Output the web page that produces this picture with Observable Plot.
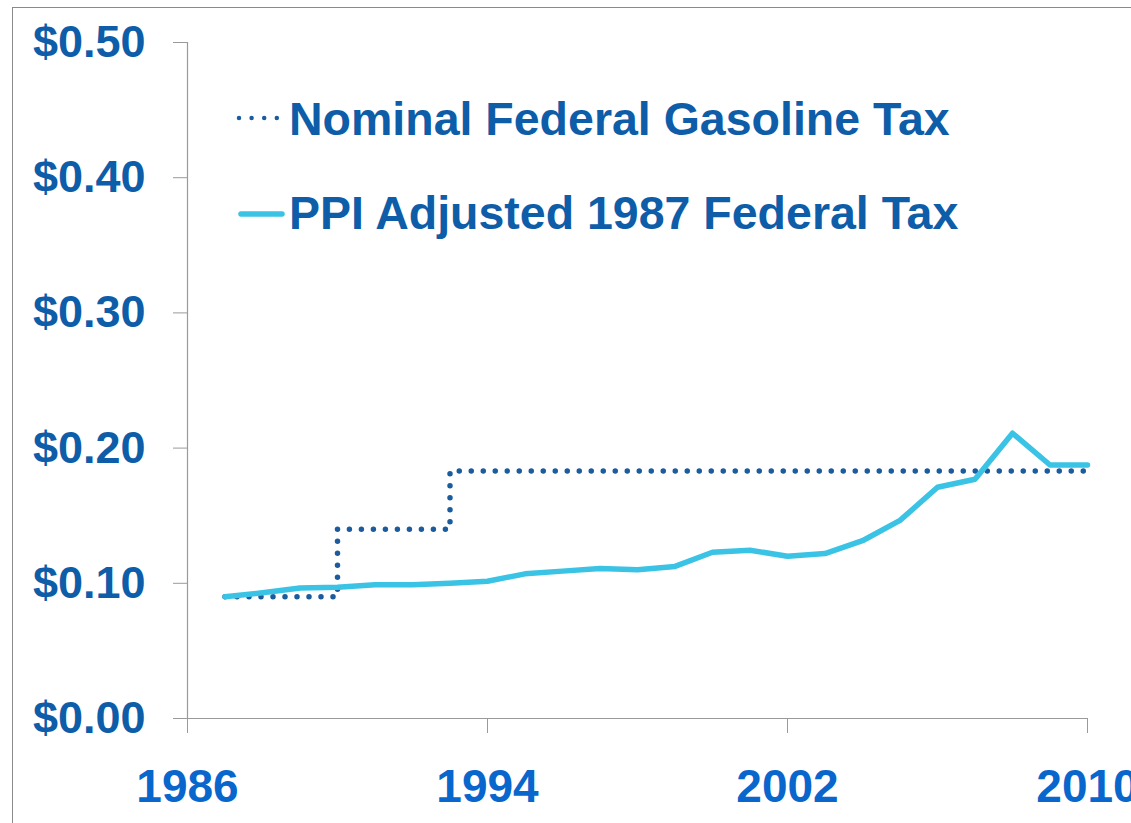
<!DOCTYPE html>
<html>
<head>
<meta charset="utf-8">
<script src="https://cdn.jsdelivr.net/npm/d3@7"></script>
<script src="https://cdn.jsdelivr.net/npm/@observablehq/plot@0.6"></script>
<style>
  html, body { margin: 0; padding: 0; background: #fff; overflow: hidden; }
  #wrap { position: relative; width: 1131px; height: 823px; }
  #border { position: absolute; left: 12px; top: 7px; width: 1200px; height: 900px;
            border-top: 1.5px solid #8a8a8a; border-left: 1.5px solid #8a8a8a; pointer-events: none; }
  #legend { position: absolute; left: 0; top: 0; pointer-events: none; }
  svg { font-family: "Liberation Sans", Arial, sans-serif; }
</style>
</head>
<body>
<div id="wrap">
  <div id="border"></div>
  <div id="chart"></div>
  <svg id="legend" width="1131" height="823"></svg>
</div>
<script>
const years = [1987,1988,1989,1990,1991,1992,1993,1994,1995,1996,1997,1998,1999,2000,2001,2002,2003,2004,2005,2006,2007,2008,2009,2010];
const nominalTax = [0.090,0.090,0.090,0.140,0.140,0.140,0.183,0.183,0.183,0.183,0.183,0.183,0.183,0.183,0.183,0.183,0.183,0.183,0.183,0.183,0.183,0.183,0.183,0.183];
const ppiAdjustedTax = [0.090,0.093,0.0965,0.097,0.099,0.099,0.100,0.1015,0.107,0.109,0.111,0.110,0.1125,0.123,0.1245,0.120,0.122,0.1315,0.1465,0.171,0.177,0.211,0.1875,0.1875];
const xTicks = [1986,1994,2002,2010];
const yTicks = [0,0.1,0.2,0.3,0.4,0.5];
const seriesNames = ["Nominal Federal Gasoline Tax","PPI Adjusted 1987 Federal Tax"];

const nominalData = years.map((y,i) => ({year: y, value: nominalTax[i]}));
const ppiData = years.map((y,i) => ({year: y, value: ppiAdjustedTax[i]}));

const darkBlue = "#1a5c9e";
const labelBlue = "#0e5da8";
const xLabelBlue = "#0866cc";
const lightBlue = "#3ac3e4";
const axisGray = "#9a9a9a";

const chart = Plot.plot({
  width: 1131,
  height: 823,
  marginLeft: 187,
  marginRight: 44,
  marginTop: 42,
  marginBottom: 105,
  style: { fontFamily: "'Liberation Sans', Arial, sans-serif", background: "transparent", overflow: "visible" },
  x: { domain: [1986, 2010] },
  y: { domain: [0, 0.5] },
  marks: [
    Plot.ruleX([1986], { stroke: axisGray, strokeWidth: 1.2 }),
    Plot.ruleY([0], { stroke: axisGray, strokeWidth: 1.2 }),
    Plot.axisY({
      ticks: yTicks, tickSize: 14, tickPadding: 28,
      tickFormat: d => "$" + d.toFixed(2),
      fontSize: 45, fontWeight: "bold", fill: labelBlue, stroke: axisGray, label: null
    }),
    Plot.axisX({
      ticks: xTicks, tickSize: 15, tickPadding: 36,
      tickFormat: d => String(d),
      fontSize: 46, fontWeight: "bold", fill: xLabelBlue, stroke: axisGray, label: null
    }),
    Plot.line(nominalData, {
      x: "year", y: "value", curve: "step-after",
      stroke: darkBlue, strokeWidth: 5.5, strokeDasharray: "0 12", strokeLinecap: "round"
    }),
    Plot.line(ppiData, {
      x: "year", y: "value",
      stroke: lightBlue, strokeWidth: 5.5, strokeLinejoin: "round"
    })
  ]
});
document.getElementById("chart").appendChild(chart);

// Legend
const lg = d3.select("#legend");
lg.append("line").attr("x1", 239).attr("x2", 277).attr("y1", 118).attr("y2", 118)
  .attr("stroke", darkBlue).attr("stroke-width", 4.5).attr("stroke-dasharray", "0 12.6").attr("stroke-linecap", "round");
lg.append("text").attr("x", 289).attr("y", 135).text(seriesNames[0])
  .attr("fill", labelBlue).attr("font-size", 46.5).attr("font-weight", "bold");
lg.append("line").attr("x1", 241).attr("x2", 282).attr("y1", 214).attr("y2", 214)
  .attr("stroke", lightBlue).attr("stroke-width", 5.5).attr("stroke-linecap", "round");
lg.append("text").attr("x", 289).attr("y", 229).text(seriesNames[1])
  .attr("fill", labelBlue).attr("font-size", 46.5).attr("font-weight", "bold");
</script>
</body>
</html>
